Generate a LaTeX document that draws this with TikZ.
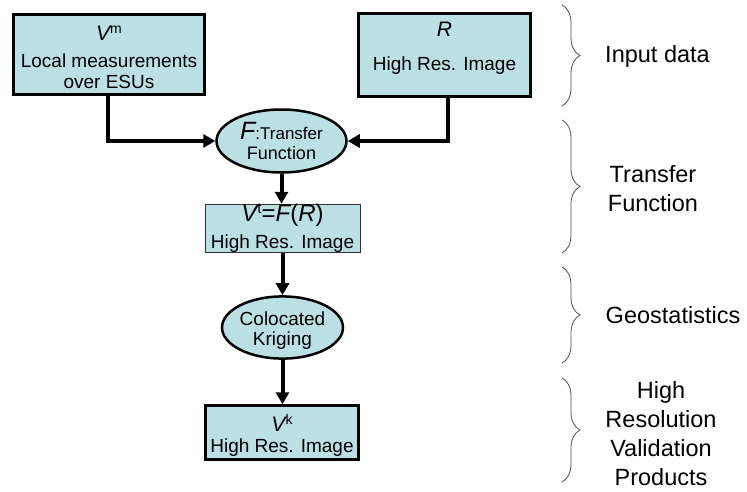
\documentclass[tikz,border=0pt]{standalone}
\usepackage{fontspec}
\setmainfont{Liberation Sans}
\usetikzlibrary{arrows.meta,shapes.geometric,decorations.pathreplacing}
\definecolor{boxfill}{RGB}{187,224,227}
\definecolor{bracegray}{RGB}{80,80,80}
\newcommand{\mysup}[3]{\raisebox{#2}{\fontsize{#3}{#3}\selectfont #1}}
\begin{document}
\begin{tikzpicture}[x=1pt,y=-1pt,
  thickbox/.style={rectangle,draw=black,line width=2.5pt,fill=boxfill,inner sep=0pt,align=center,font=\fontsize{19}{21}\selectfont},
  thinbox/.style={rectangle,draw=black!80,line width=0.8pt,fill=boxfill,inner sep=0pt,align=center,font=\fontsize{19}{21}\selectfont},
  ellbox/.style={ellipse,draw=black,line width=2.5pt,fill=boxfill,inner sep=0pt,align=center,font=\fontsize{18}{20}\selectfont},
  flow/.style={line width=4pt,-{Triangle[length=12pt,width=13pt]}},
  grp/.style={decorate,decoration={brace,amplitude=18pt},draw=bracegray,line width=0.8pt},
  grplabel/.style={align=center,font=\fontsize{23.5}{29}\selectfont}]
\useasboundingbox (0,0) rectangle (747,491);

\node[thickbox,minimum width=191pt,minimum height=80pt] (vm) at (109,54.5)
  {\rule{0pt}{20pt}{\fontsize{21}{21}\selectfont\itshape V}\mysup{m}{6.5pt}{14}\\[6pt]Local measurements\\over ESUs};
\node[thickbox,minimum width=172pt,minimum height=83pt] (r) at (444.5,55)
  {{\fontsize{21}{21}\selectfont\itshape R}\\[13pt]High Res. Image\\[-9pt] \strut};
\node[ellbox,minimum width=130pt,minimum height=63pt] (f) at (281.5,141)
  {{\fontsize{25}{20}\selectfont\itshape F}{\fontsize{17}{20}\selectfont:Transfer}\\Function};
\node[thinbox,minimum width=155pt,minimum height=47pt] (vt) at (282.5,228.5)
  {{\fontsize{24}{26}\selectfont\itshape V\upshape\mysup{t}{8pt}{15}=\itshape F\upshape(\itshape R\upshape)}\\[6pt]High Res. Image};
\node[ellbox,font=\fontsize{19}{20}\selectfont,minimum width=103pt,minimum height=61pt] (ck) at (282.5,327.5)
  {\rule{0pt}{20pt}Colocated\\Kriging};
\node[thickbox,minimum width=153pt,minimum height=54pt] (vk) at (282,432.5)
  {\rule{0pt}{22pt}{\fontsize{21}{21}\selectfont\itshape V}\mysup{k}{6.5pt}{14}\\High Res. Image};

\draw[flow] ([xshift=-1pt]vm.south) |- (f.west);
\draw[flow] ([xshift=3.5pt]r.south) |- (f.east);
\draw[flow] (f.south) -- (f.south |- vt.north);
\draw[flow] (vt.south) -- (vt.south |- ck.north);
\draw[flow] (ck.south) -- (ck.south |- vk.north);

\draw[grp] (562,5) -- (562,106);
\draw[grp] (562,120) -- (562,253);
\draw[grp] (562,267) -- (562,363);
\draw[grp] (562,378) -- (562,482);

\node[grplabel] (l1) at (657.5,56) {Input data};
\node[grplabel] (l2) at (653,189) {Transfer\\Function};
\node[grplabel] (l3) at (673,315) {Geostatistics};
\node[grplabel] (l4) at (661,434) {High\\Resolution\\Validation\\Products};
\end{tikzpicture}
\end{document}
